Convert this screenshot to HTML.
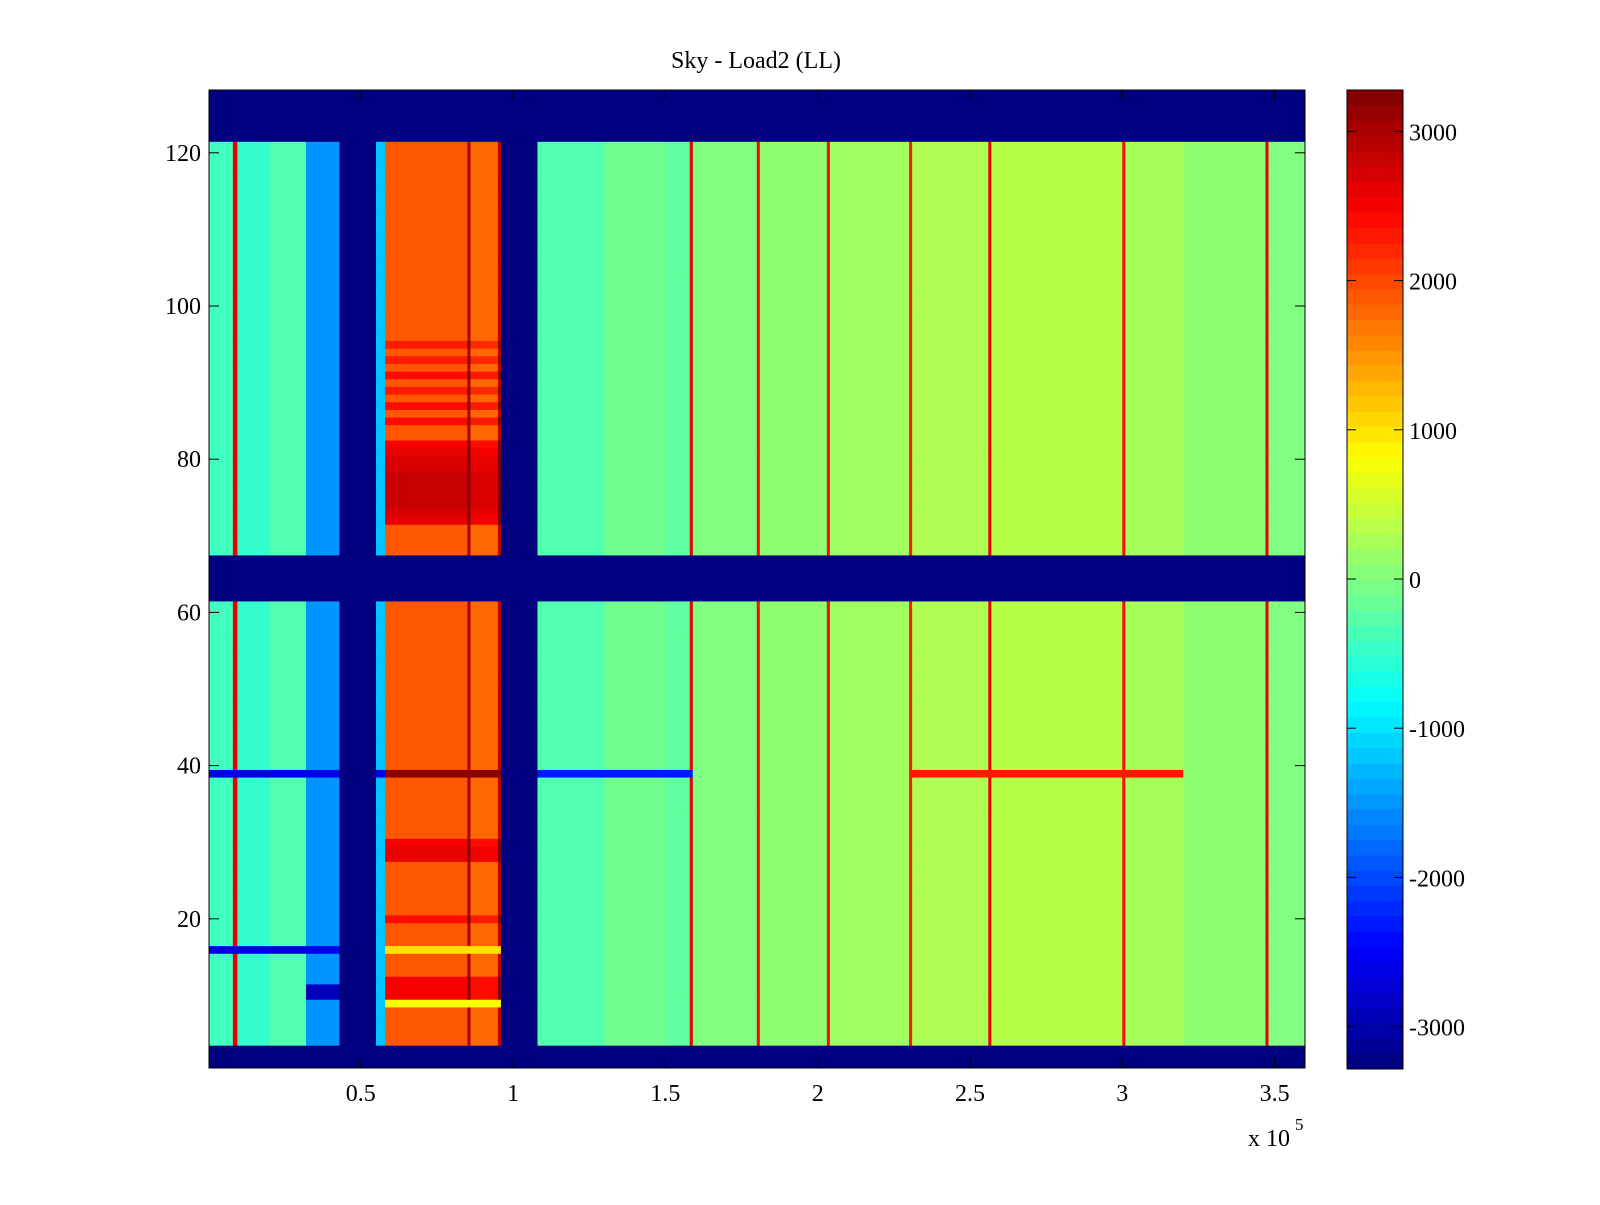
<!DOCTYPE html>
<html><head><meta charset="utf-8">
<style>
html,body{margin:0;padding:0;background:#fff;}
svg text{font-family:"Liberation Serif",serif;fill:#000;}
</style></head>
<body>
<svg id="fig" width="1600" height="1200" xmlns="http://www.w3.org/2000/svg">
<rect width="1600" height="1200" fill="#fff"/>
<text x="756" y="68" font-size="24" text-anchor="middle">Sky - Load2 (LL)</text>
<g id="cells"></g>
<g id="axes"></g>
<g id="cbar"></g>
</svg>
<script>
// x segments in units of 1e5: [start, end, value]
const colStarts = [0,0.08,0.095,0.2,0.32,0.43,0.55,0.58,0.85,0.86,0.95,0.96,1.08,1.3,1.5,1.58,1.59,1.8,1.81,2.03,2.04,2.3,2.31,2.56,2.57,3.0,3.01,3.2,3.47,3.48];
const colEnds   = [0.08,0.095,0.2,0.32,0.43,0.55,0.58,0.85,0.86,0.95,0.96,1.08,1.3,1.5,1.58,1.59,1.8,1.81,2.03,2.04,2.3,2.31,2.56,2.57,3.0,3.01,3.2,3.47,3.48,3.6];
const colValues = [-400,2600,-500,-300,-1500,-3280,-1200,1900,3000,1800,2800,-3280,-300,-100,-200,2600,0,2400,100,2400,200,2300,300,2600,350,2400,250,100,2600,0];
// rows that are fully masked (dark blue)
const maskedRows = [1,2,3,62,63,64,65,66,67,122,123,124,125,126,127,128];
// rows with extra intensity in the warm band
const boostRows = [72,73,74,75,76,77,78,79,80,81,82,85,87,89,91,93,95,28,29,30,20,12,11,10];
const boostValues = [700,800,900,900,900,900,900,800,800,700,600,500,500,400,500,400,400,700,700,600,500,600,600,600];
// horizontal stripe rows
const stripeRows = [39,39,39,39,16,16,9,10,11];
const stripeStart = [0,0.58,1.08,2.4,0,0.58,0.58,0.3,0.3];
const stripeEnd = [0.58,0.96,1.6,3.15,0.42,0.96,0.96,0.43,0.43];
const stripeValues = [-2600,3200,-2300,2300,-2600,1000,800,-2900,-2900];
const cbTicks = [-3000,-2000,-1000,0,1000,2000,3000];
const xTicks = [0.5,1,1.5,2,2.5,3,3.5];
const xTickLabels = ["0.5","1","1.5","2","2.5","3","3.5"];
const yTicks = [20,40,60,80,100,120];

const NS="http://www.w3.org/2000/svg";
const X0=209,X1=1305,Y0=90,Y1=1068;
const xs=v=>208.5+v*304.6;
const ys=r=>1072-r*7.66;
const VMIN=-3280,VMAX=3280;
function jet(v){
  let t=(v-VMIN)/(VMAX-VMIN);t=Math.max(0,Math.min(1,t));
  const f=x=>Math.max(0,Math.min(1,x));
  const r=f(1.5-Math.abs(4*t-3)),g=f(1.5-Math.abs(4*t-2)),b=f(1.5-Math.abs(4*t-1));
  return `rgb(${Math.round(r*255)},${Math.round(g*255)},${Math.round(b*255)})`;
}
function mk(tag,attrs,parent){const e=document.createElementNS(NS,tag);for(const k in attrs)e.setAttribute(k,attrs[k]);parent.appendChild(e);return e;}
const cells=document.getElementById('cells');
for(let r=1;r<=128;r++){
  const yTop=Math.max(Y0,ys(r+0.5)),yBot=Math.min(Y1,ys(r-0.5)),h=yBot-yTop;
  if(maskedRows.includes(r)){
    const e=mk('rect',{x:X0,y:yTop,width:X1-X0,height:h+0.5,fill:jet(VMIN)},cells);
    
    
    continue;
  }
  const bi=boostRows.indexOf(r);const boost=bi>=0?boostValues[bi]:0;
  for(let i=0;i<colStarts.length;i++){
    let v=colValues[i];
    const mid=(colStarts[i]+colEnds[i])/2;
    if(v>1500&&mid>0.58&&mid<0.96)v+=boost;
    for(let s=0;s<stripeRows.length;s++){
      if(stripeRows[s]===r&&mid>=stripeStart[s]&&mid<stripeEnd[s]&&colValues[i]>-3000)v=stripeValues[s];
    }
    const x1=Math.max(X0,xs(colStarts[i])),x2=Math.min(X1,xs(colEnds[i]));
    const e=mk('rect',{x:x1,y:yTop,width:x2-x1+0.5,height:h+0.5,fill:jet(v)},cells);
    
    
  }
}
const ax=document.getElementById('axes');
mk('rect',{x:X0,y:Y0,width:X1-X0,height:Y1-Y0,fill:'none',stroke:'#000','stroke-width':1},ax);
xTicks.forEach((t,i)=>{
  const x=xs(t);
  mk('line',{x1:x,y1:Y1,x2:x,y2:Y1-10,stroke:'#000'},ax);
  mk('line',{x1:x,y1:Y0,x2:x,y2:Y0+10,stroke:'#000'},ax);
  const tx=mk('text',{x:x,y:1101,'font-size':24,'text-anchor':'middle'},ax);
  tx.textContent=xTickLabels[i];
  
  
});
yTicks.forEach(t=>{
  const y=ys(t);
  mk('line',{x1:X0,y1:y,x2:X0+10,y2:y,stroke:'#000'},ax);
  mk('line',{x1:X1,y1:y,x2:X1-10,y2:y,stroke:'#000'},ax);
  const tx=mk('text',{x:201,y:y+8,'font-size':24,'text-anchor':'end'},ax);
  tx.textContent=String(t);
  
  
});
const ex=mk('text',{x:1248,y:1146,'font-size':24},ax);
ex.textContent='x 10';


const ex2=mk('text',{x:1295,y:1130,'font-size':17},ax);
ex2.textContent='5';


// colorbar
const cb=document.getElementById('cbar');
const CX0=1347,CX1=1403,CY0=90,CY1=1069,N=64;
for(let i=0;i<N;i++){
  const v=VMIN+(i+0.5)*(VMAX-VMIN)/N;
  const yb=CY1-(i+1)*(CY1-CY0)/N;
  mk('rect',{x:CX0,y:yb,width:CX1-CX0,height:(CY1-CY0)/N+0.5,fill:jet(v)},cb);
}
mk('rect',{x:CX0,y:CY0,width:CX1-CX0,height:CY1-CY0,fill:'none',stroke:'#000'},cb);
const cy=v=>579-v*0.1492;
cbTicks.forEach(t=>{
  const y=cy(t);
  mk('line',{x1:CX0,y1:y,x2:CX0+9,y2:y,stroke:'#000'},cb);
  mk('line',{x1:CX1,y1:y,x2:CX1-9,y2:y,stroke:'#000'},cb);
  const tx=mk('text',{x:1409,y:y+9,'font-size':24},cb);
  tx.textContent=String(t);
  
  
});
</script>
</body></html>
